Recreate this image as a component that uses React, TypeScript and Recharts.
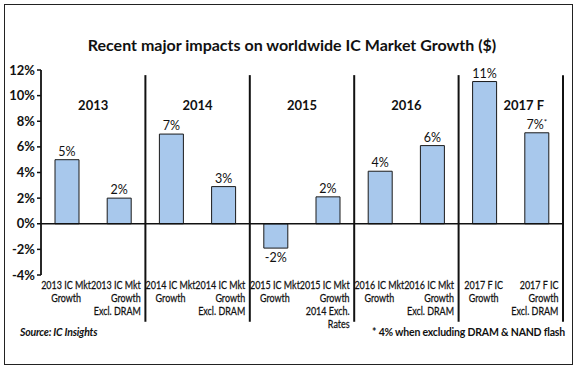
import React from 'react';
import { BarChart, Bar, XAxis, YAxis, ReferenceLine, ReferenceDot, LabelList } from 'recharts';

const categoryLines: string[][] = [
  ['2013 IC Mkt', 'Growth'],
  ['2013 IC Mkt', 'Growth', 'Excl. DRAM'],
  ['2014 IC Mkt', 'Growth'],
  ['2014 IC Mkt', 'Growth', 'Excl. DRAM'],
  ['2015 IC Mkt', 'Growth'],
  ['2015 IC Mkt', 'Growth', '2014 Exch.', 'Rates'],
  ['2016 IC Mkt', 'Growth'],
  ['2016 IC Mkt', 'Growth', 'Excl. DRAM'],
  ['2017 F IC', 'Growth'],
  ['2017 F IC', 'Growth', 'Excl. DRAM'],
];
const values = [5.0, 2.0, 7.0, 2.9, -1.9, 2.1, 4.1, 6.1, 11.1, 7.1];
const valueLabels = ['5%', '2%', '7%', '3%', '-2%', '2%', '4%', '6%', '11%', '7%*'];
const groups = ['2013', '2014', '2015', '2016', '2017 F'];
const groupX = [0.5, 2.5, 4.5, 6.5, 8.75];
const groupY = 9.2;
const dividerX = [1.5, 3.5, 5.5, 7.5, 9.5];
const dividerTop = 11.6;
const dividerBottom = -7.65;
const yTicks = [-4, -2, 0, 2, 4, 6, 8, 10, 12];
const xTicks = [0, 1, 2, 3, 4, 5, 6, 7, 8, 9];

const data = values.map((v, i) => ({ idx: i, value: v, label: valueLabels[i] }));

const FONT = 'Lato, "Open Sans", sans-serif';

const CatTick = (props: any) => {
  const { x, y, payload } = props;
  const i = payload.value as number;
  const lines = categoryLines[i] || [];
  const odd = i % 2 === 1;
  const tx = odd ? x + 21.5 : x - 1;
  return (
    <g transform={`translate(${tx},${y}) scale(0.78,1)`}>
      {lines.map((l, k) => (
        <text
          key={k}
          x={0}
          y={14 + k * 13}
          textAnchor={odd ? 'end' : 'middle'}
          fontFamily={FONT}
          fontSize={11.5}
          fontWeight={400}
          fill="#111"
          stroke="#111"
          strokeWidth={0.25}
        >
          {l}
        </text>
      ))}
    </g>
  );
};

const ValueLabel = (props: any) => {
  const { x, y, width, height, index } = props;
  const v = values[index];
  const label = valueLabels[index];
  const cx = x + width / 2;
  const top = Math.min(y, y + height);
  const bottom = Math.max(y, y + height);
  const ty = v >= 0 ? top - 4 : bottom + 14;
  const star = label.endsWith('*');
  const main = star ? label.slice(0, -1) : label;
  return (
    <text x={cx} y={ty} textAnchor="middle" fontFamily={FONT} fontSize={12.5} fill="#111">
      {main}
      {star ? (
        <tspan fontSize={8} dy={-4}>
          *
        </tspan>
      ) : null}
    </text>
  );
};

export default function App() {
  return (
    <div style={{ position: 'absolute', left: 0, top: 0, width: 580, height: 371, background: '#fff' }}>
      <div
        style={{
          position: 'absolute',
          left: 4,
          top: 4,
          width: 569,
          height: 361,
          border: '1.5px solid #222',
          boxSizing: 'border-box',
        }}
      />
      <div
        style={{
          position: 'absolute',
          left: 0,
          top: 36,
          width: 584,
          textAlign: 'center',
          fontFamily: FONT,
          fontWeight: 700,
          fontSize: 16,
          color: '#111',
          lineHeight: '18px',
        }}
      >
        Recent major impacts on worldwide IC Market Growth ($)
      </div>
      <div style={{ position: 'absolute', left: 0, top: 0 }}>
        <BarChart width={580} height={371} data={data} margin={{ top: 70, right: 17, bottom: 36, left: 0 }}>
          <XAxis
            dataKey="idx"
            type="number"
            domain={[-0.5, 9.5]}
            ticks={xTicks}
            interval={0}
            axisLine={false}
            tickLine={false}
            tickSize={0}
            tickMargin={0}
            height={60}
            tick={<CatTick />}
          />
          <YAxis
            type="number"
            domain={[-4, 12]}
            ticks={yTicks}
            interval={0}
            width={41}
            tickSize={4}
            tickMargin={2}
            axisLine={{ stroke: '#111', strokeWidth: 1.8 }}
            tickLine={{ stroke: '#111', strokeWidth: 1.5 }}
            tickFormatter={(v: number) => `${v}%`}
            tick={{ fill: '#111', fontFamily: FONT, fontSize: 13, fontWeight: 700 }}
          />
          <ReferenceLine y={0} stroke="#111" strokeWidth={1.5} />
          {dividerX.map((d) => (
            <ReferenceLine
              key={d}
              segment={[
                { x: d, y: dividerTop },
                { x: d, y: dividerBottom },
              ]}
              ifOverflow="visible"
              stroke="#111"
              strokeWidth={2}
            />
          ))}
          {groups.map((g, i) => (
            <ReferenceDot
              key={g}
              x={groupX[i]}
              y={groupY}
              r={1}
              fill="none"
              stroke="none"
              ifOverflow="visible"
              label={{ value: g, position: 'center', fill: '#111', fontSize: 13, fontWeight: 700, fontFamily: FONT }}
            />
          ))}
          <Bar dataKey="value" fill="#a8c8ec" stroke="#1a1a1a" strokeWidth={1} barSize={24} isAnimationActive={false}>
            <LabelList dataKey="label" content={<ValueLabel />} />
          </Bar>
        </BarChart>
      </div>
      <div
        style={{
          position: 'absolute',
          left: 20,
          top: 326,
          fontFamily: FONT,
          fontWeight: 700,
          fontStyle: 'italic',
          fontSize: 10.5,
          color: '#111',
          letterSpacing: -0.2,
        }}
      >
        Source: IC Insights
      </div>
      <div
        style={{
          position: 'absolute',
          right: 15,
          top: 326,
          fontFamily: FONT,
          fontWeight: 700,
          fontSize: 10.5,
          color: '#111',
          letterSpacing: -0.2,
        }}
      >
        * 4% when excluding DRAM &amp; NAND flash
      </div>
    </div>
  );
}
